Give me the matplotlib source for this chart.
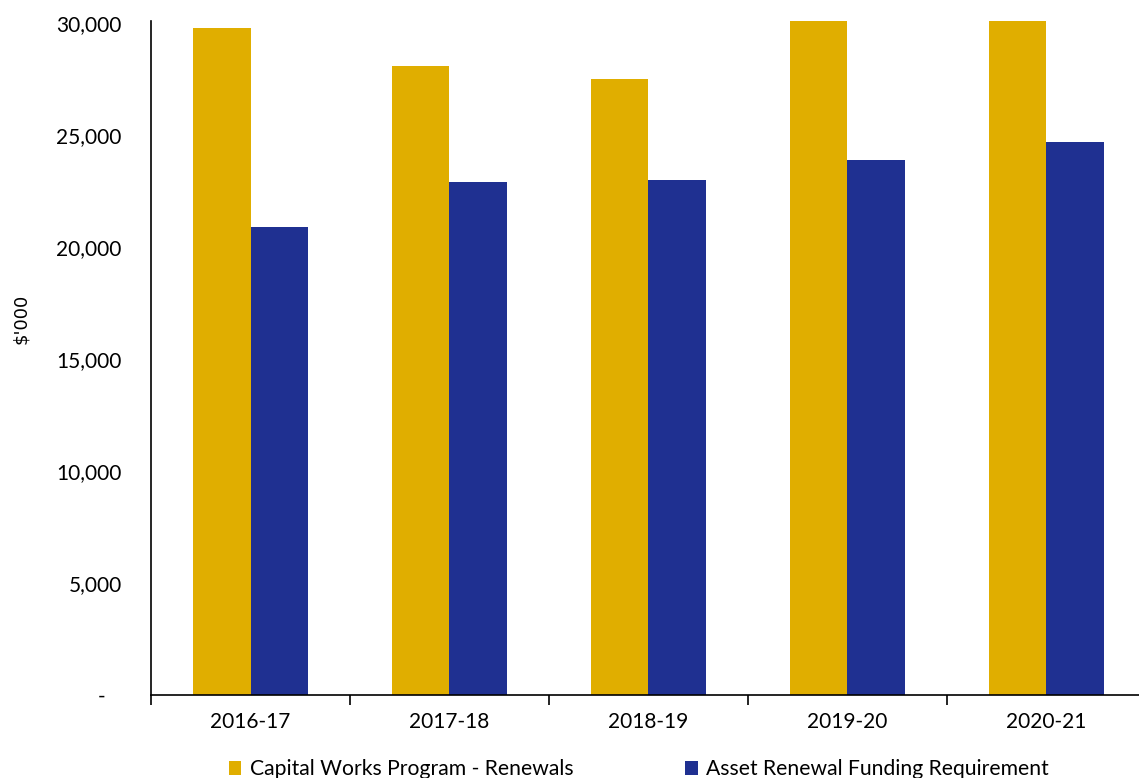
import numpy as np
import matplotlib.pyplot as plt
from matplotlib.ticker import FuncFormatter, FixedLocator

plt.rcParams['font.family'] = ['Lato', 'DejaVu Sans']

# data
years = ["2016-17", "2017-18", "2018-19", "2019-20", "2020-21"]
renewals = [29800, 28100, 27500, 31500, 31500]
requirement = [20900, 22900, 23000, 23900, 24700]

GOLD = "#E0AE00"
BLUE = "#1F3091"


def y_fmt(v, pos):
    if v == 0:
        return "-   "
    return f"{v:,.0f}"


fig = plt.figure(figsize=(11.39, 7.78), dpi=100)
ax = fig.add_axes([0.1326, 0.1067, 0.8734, 0.8663])

x = np.arange(len(years))
w = 0.29
ax.bar(x - w / 2, renewals, w, color=GOLD, label="Capital Works Program - Renewals")
ax.bar(x + w / 2, requirement, w, color=BLUE, label="Asset Renewal Funding Requirement")

ax.set_xlim(-0.5, len(years) - 0.5)
ax.set_ylim(0, 30100)
ax.set_yticks(np.arange(0, 30001, 5000))
ax.yaxis.set_major_formatter(FuncFormatter(y_fmt))
ax.tick_params(axis="y", length=0, pad=21, labelsize=15)

ax.set_xticks(x)
ax.set_xticklabels(years)
ax.tick_params(axis="x", which="major", length=0, pad=12, labelsize=15)
ax.xaxis.set_minor_locator(FixedLocator(np.arange(-0.5, len(years), 1.0)))
ax.tick_params(axis="x", which="minor", length=7, width=1.2, direction="out")

for s in ["top", "right"]:
    ax.spines[s].set_visible(False)
for s in ["left", "bottom"]:
    ax.spines[s].set_linewidth(1.2)

fig.text(0.018, 0.59, "\\$'000", rotation=90, ha="center", va="center", fontsize=13,
         family=["DejaVu Sans"])

fig.legend(loc="center", bbox_to_anchor=(0.561, 0.011), ncol=2, frameon=False,
           fontsize=15.2, handlelength=0.6, handleheight=0.6, handletextpad=0.4,
           columnspacing=5.3)

plt.savefig("out.png", dpi=100)
plt.close()
